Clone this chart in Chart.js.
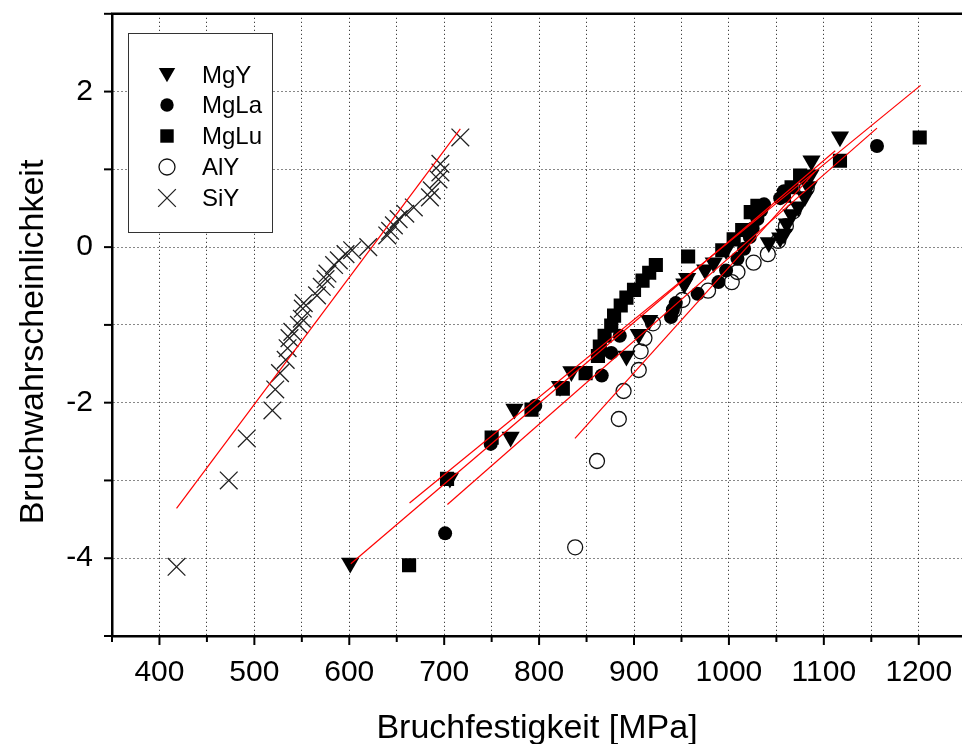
<!DOCTYPE html>
<html>
<head>
<meta charset="utf-8">
<script src="https://cdn.jsdelivr.net/npm/chart.js@4.4.1/dist/chart.umd.min.js"></script>
<style>
  html, body { margin: 0; padding: 0; background: #fff; overflow: hidden; }
  canvas { display: block; }
</style>
</head>
<body>
<canvas id="chart" width="980" height="744"></canvas>
<script>
// Messwerte [Bruchfestigkeit MPa, ln(-ln(1-F))]
const mgY = [[601,-4.06],[706,-2.97],[770,-2.44],[774,-2.08],[822,-1.79],[834,-1.60],[892,-1.40],[905,-1.12],[916,-0.94],
  [953,-0.47],[956,-0.40],[975,-0.29],[984,-0.20],[997,-0.03],[1042,0.06],[1054,0.12],[1058,0.17],[1061,0.30],[1066,0.42],
  [1073,0.52],[1080,0.65],[1084,0.78],[1086,0.93],[1087,1.11],[1117,1.42]];
const mgLa = [[701,-3.68],[749,-2.53],[796,-2.04],[866,-1.65],[876,-1.36],[885,-1.14],[939,-0.90],[941,-0.81],[944,-0.72],
  [967,-0.60],[989,-0.45],[997,-0.30],[1009,-0.15],[1016,-0.02],[1022,0.13],[1025,0.24],[1030,0.36],[1034,0.47],[1037,0.55],
  [1054,0.63],[1058,0.72],[1156,1.30]];
const mgLu = [[663,-4.09],[703,-2.98],[750,-2.45],[792,-2.09],[825,-1.82],[849,-1.62],[862,-1.40],[864,-1.28],[869,-1.14],
  [876,-1.01],[879,-0.88],[886,-0.75],[892,-0.65],[900,-0.55],[909,-0.43],[916,-0.33],[923,-0.23],[957,-0.12],[993,-0.04],
  [1005,0.10],[1014,0.22],[1023,0.45],[1030,0.53],[1058,0.66],[1066,0.77],[1075,0.92],[1117,1.11],[1201,1.41]];
const alY = [[838,-3.86],[861,-2.75],[884,-2.21],[889,-1.85],[905,-1.58],[907,-1.34],[911,-1.17],[920,-0.98],[942,-0.81],
  [951,-0.68],[978,-0.56],[1003,-0.45],[1009,-0.32],[1026,-0.20],[1041,-0.09],[1052,0.08],[1060,0.27],[1068,0.46],[1082,0.76]];
const siY = [[418,-4.11],[473,-3.00],[492,-2.46],[519,-2.10],[522,-1.83],[527,-1.62],[533,-1.45],[535,-1.30],[537,-1.17],
  [540,-1.09],[547,-1.00],[550,-0.92],[551,-0.79],[552,-0.72],[566,-0.62],[571,-0.51],[575,-0.41],[577,-0.34],[584,-0.23],
  [589,-0.17],[596,-0.09],[603,-0.04],[620,0.00],[640,0.15],[643,0.21],[647,0.28],[652,0.36],[659,0.43],[668,0.51],
  [685,0.64],[687,0.73],[694,0.87],[696,0.96],[696,1.07],[717,1.41]];

// lineare Fits (Anfang, Ende)
const fitMgY = [[601.6,-4.07],[1112,1.24]];
const fitMgLa = [[703.4,-3.31],[1156,1.53]];
const fitMgLu = [[663.5,-3.29],[1202,2.08]];
const fitAlY = [[837.8,-2.46],[1090,0.96]];
const fitSiY = [[418,-3.36],[717,1.52]];

const xTicks = [400, 500, 600, 700, 800, 900, 1000, 1100, 1200];
const yTicks = [-4, -2, 0, 2];

const FONT = "'Liberation Sans', Arial, sans-serif";
const pts = arr => arr.map(p => ({ x: p[0], y: p[1] }));

function fitSet(arr) {
  return { label: '', data: pts(arr), showLine: true, borderColor: '#ff0000', borderWidth: 1.2,
    pointRadius: 0, fill: false, order: 0, isFit: true };
}

const datasets = [
  { label: 'MgY', data: pts(mgY), pointStyle: 'triangle', rotation: 180, radius: 10.5,
    backgroundColor: '#000', borderColor: '#000', borderWidth: 0, order: 1, legR: 9.5 },
  { label: 'MgLa', data: pts(mgLa), pointStyle: 'circle', radius: 7,
    backgroundColor: '#000', borderColor: '#000', borderWidth: 0, order: 1, legR: 6.7 },
  { label: 'MgLu', data: pts(mgLu), pointStyle: 'rect', radius: 10,
    backgroundColor: '#000', borderColor: '#000', borderWidth: 0, order: 1, legR: 9.5 },
  { label: 'AlY', data: pts(alY), pointStyle: 'circle', radius: 7.5,
    backgroundColor: 'rgba(0,0,0,0)', borderColor: '#111', borderWidth: 1.3, order: 2, legR: 8 },
  { label: 'SiY', data: pts(siY), pointStyle: 'crossRot', radius: 12.5,
    backgroundColor: '#222', borderColor: '#222', borderWidth: 1.3, order: 3, legR: 12.5 },
  fitSet(fitMgY), fitSet(fitMgLa), fitSet(fitMgLu), fitSet(fitAlY), fitSet(fitSiY)
];

function drawMarker(ctx, ds, x, y, r) {
  ctx.save();
  ctx.fillStyle = ds.backgroundColor;
  ctx.strokeStyle = ds.borderColor;
  ctx.lineWidth = ds.borderWidth || 1;
  ctx.beginPath();
  if (ds.pointStyle === 'triangle') {
    const a = r * Math.sin(Math.PI / 3);
    ctx.moveTo(x, y + r * 0.75);
    ctx.lineTo(x - a, y - r * 0.75);
    ctx.lineTo(x + a, y - r * 0.75);
    ctx.closePath();
    ctx.fill();
  } else if (ds.pointStyle === 'circle') {
    ctx.arc(x, y, r, 0, Math.PI * 2);
    if (ds.borderWidth) ctx.stroke(); else ctx.fill();
  } else if (ds.pointStyle === 'rect') {
    const s = r * Math.SQRT1_2;
    ctx.rect(x - s, y - s, 2 * s, 2 * s);
    ctx.fill();
  } else {
    const s = r * Math.SQRT1_2;
    ctx.moveTo(x - s, y - s); ctx.lineTo(x + s, y + s);
    ctx.moveTo(x + s, y - s); ctx.lineTo(x - s, y + s);
    ctx.stroke();
  }
  ctx.restore();
}

// keine automatischen Randabstände durch Beschriftungen
const noPad = s => { s.paddingLeft = 0; s.paddingRight = 0; s.paddingTop = 0; s.paddingBottom = 0; };

const decor = {
  id: 'decor',
  afterDraw(chart) {
    const { ctx, chartArea: a, scales: { x, y } } = chart;
    ctx.save();
    ctx.strokeStyle = '#000';
    ctx.lineWidth = 2;
    x.ticks.forEach(t => {
      const px = x.getPixelForValue(t.value);
      const len = t.value % 100 === 0 ? 9 : 6;
      ctx.beginPath(); ctx.moveTo(px, a.bottom); ctx.lineTo(px, a.bottom + len); ctx.stroke();
    });
    y.ticks.forEach(t => {
      const py = y.getPixelForValue(t.value);
      ctx.beginPath(); ctx.moveTo(a.left, py); ctx.lineTo(a.left - 8, py); ctx.stroke();
    });
    // oberer Rahmen
    ctx.lineWidth = 2.5;
    ctx.beginPath(); ctx.moveTo(a.left - 1, a.top); ctx.lineTo(a.right, a.top); ctx.stroke();

    // Legende
    ctx.fillStyle = '#fff';
    ctx.fillRect(128, 33, 144, 199);
    ctx.lineWidth = 1;
    ctx.strokeStyle = '#333';
    ctx.strokeRect(128.5, 33.5, 144, 199);
    const rows = [75, 105, 136, 167, 198];
    ctx.font = '24px ' + FONT;
    ctx.textBaseline = 'middle';
    ctx.textAlign = 'left';
    chart.data.datasets.filter(d => !d.isFit).forEach((ds, i) => {
      drawMarker(ctx, ds, 167, rows[i], ds.legR);
      ctx.fillStyle = '#000';
      ctx.fillText(ds.label, 202, rows[i] + 1);
    });

    // Achsentitel
    ctx.fillStyle = '#000';
    ctx.font = '34px ' + FONT;
    ctx.textAlign = 'center';
    ctx.textBaseline = 'alphabetic';
    ctx.fillText('Bruchfestigkeit [MPa]', 537, 738);
    ctx.translate(43, 342);
    ctx.rotate(-Math.PI / 2);
    ctx.fillText('Bruchwahrscheinlichkeit', 0, 0);
    ctx.restore();
  }
};

new Chart(document.getElementById('chart'), {
  type: 'scatter',
  data: { datasets: datasets },
  plugins: [decor],
  options: {
    responsive: false,
    devicePixelRatio: 1,
    animation: false,
    layout: { padding: { left: 0, right: 10, top: 11, bottom: 0 } },
    plugins: { legend: { display: false }, tooltip: { enabled: false } },
    scales: {
      x: {
        type: 'linear', min: 350, max: 1250,
        afterFit: s => { s.height = 108; noPad(s); },
        ticks: {
          stepSize: 50, autoSkip: false, maxRotation: 0, padding: 19,
          color: '#000', font: { family: FONT, size: 30 },
          callback: v => xTicks.includes(v) ? String(v) : ''
        },
        grid: { color: '#111', lineWidth: 1, drawTicks: false },
        border: { display: true, color: '#000', width: 2.5, dash: [1, 3] }
      },
      y: {
        type: 'linear', min: -5, max: 3,
        afterFit: s => { s.width = 112; noPad(s); },
        ticks: {
          stepSize: 1, autoSkip: false, padding: 19,
          color: '#000', font: { family: FONT, size: 30 },
          callback: v => yTicks.includes(v) ? String(v) : ''
        },
        grid: { color: '#111', lineWidth: 1, drawTicks: false },
        border: { display: true, color: '#000', width: 2.5, dash: [1, 3] }
      }
    }
  }
});
</script>
</body>
</html>
